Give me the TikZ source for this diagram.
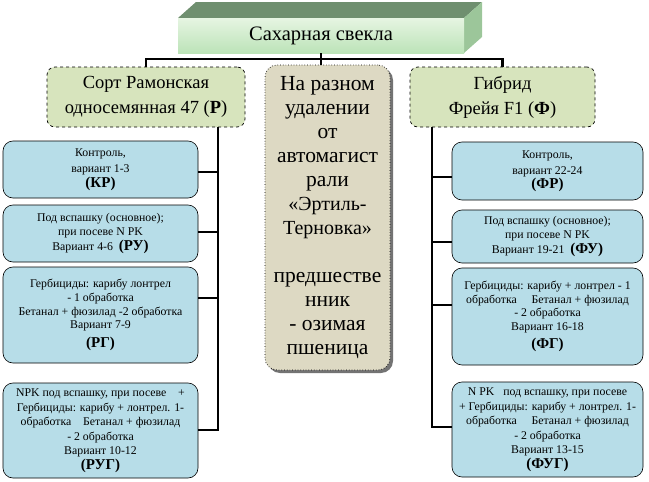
\documentclass[tikz,border=0pt]{standalone}
\usepackage{fontspec}
\setmainfont{Liberation Serif}
\usetikzlibrary{shadows}
\definecolor{topfront}{HTML}{E6F5E2}
\definecolor{topfront2}{HTML}{BCE3B8}
\definecolor{toptop}{HTML}{6F8F6F}
\definecolor{topside}{HTML}{9CC69A}
\definecolor{sortfill}{HTML}{D7E4BD}
\definecolor{midfill}{HTML}{DDD9C3}
\definecolor{varfill}{HTML}{B7DDE8}
\tikzset{
  conn/.style={line width=2.6pt},
  sortbox/.style={draw, dashed, fill=sortfill, rounded corners=8pt, line width=0.7pt, align=center, inner sep=0pt,
    font=\fontsize{18.5}{25}\selectfont},
  midbox/.style={draw, dotted, fill=midfill, rounded corners=12pt, line width=0.7pt, align=center, inner sep=0pt,
    drop shadow={shadow xshift=3pt, shadow yshift=-3pt, fill=black!55, opacity=1},
    font=\fontsize{21.5}{24}\selectfont},
  varbox/.style={draw, fill=varfill, rounded corners=10pt, line width=0.6pt, align=center, inner sep=0pt,
    font=\fontsize{11.8}{14.5}\selectfont},
}
\newcommand{\lbl}[1]{{\fontsize{15}{19}\selectfont\bfseries #1}}
\begin{document}
\begin{tikzpicture}[x=1pt,y=-1pt]
\useasboundingbox (0,0) rectangle (649,482);
% 3D top box
\fill[toptop] (178,18) -- (196,2) -- (482,2) -- (464,18) -- cycle;
\fill[topside] (464,18) -- (482,2) -- (482,37) -- (464,53) -- cycle;
\node[minimum width=286pt, minimum height=35pt, inner sep=0pt, top color=topfront, bottom color=topfront2,
  font=\fontsize{20.5}{22}\selectfont] (top) at (321,35.5) {Сахарная свекла};

% second level
\node[sortbox, minimum width=198pt, minimum height=60pt] (sortL) at (146,97) {Сорт Рамонская\\односемянная 47 (\textbf{Р})};
\node[sortbox, minimum width=185pt, minimum height=60pt] (sortR) at (502.5,97) {Гибрид\\Фрейя F1 (\textbf{Ф})};
\node[midbox, minimum width=125pt, minimum height=305pt] (mid) at (327.5,217.5) {На разном\\удалении\\от\\автомагист\\рали\\{\fontsize{20}{24}\selectfont«Эртиль-}\\{\fontsize{20}{24}\selectfont Терновка»}\\[24pt]предшестве\\нник\\- озимая\\пшеница};

% left variants
\node[varbox, minimum width=195pt, minimum height=57pt] (kl1) at (100.5,169.5) {Контроль,\\[1.5pt]вариант 1-3\\\lbl{(КР)}};
\node[varbox, minimum width=195pt, minimum height=57pt] (kl2) at (100.5,233.5) {Под вспашку (основное);\\при посеве N PK\\Вариант 4-6~~\lbl{(РУ)}};
\node[varbox, minimum width=195pt, minimum height=96pt, font=\fontsize{11.8}{13.6}\selectfont] (kl3) at (100.5,315) {Гербициды: карибу лонтрел\\- 1 обработка\\Бетанал + фюзилад -2 обработка\\Вариант 7-9\\[5pt]\lbl{(РГ)}};
\node[varbox, minimum width=195pt, minimum height=95pt] (kl4) at (100.5,430.5) {NPK под вспашку, при посеве~~~~+\\Гербициды: карибу + лонтрел. 1-\\обработка~~~~Бетанал + фюзилад\\- 2 обработка\\Вариант 10-12\\\lbl{(РУГ)}};

% right variants
\node[varbox, minimum width=191pt, minimum height=58pt] (kr1) at (547.5,171) {Контроль,\\[1.5pt]вариант 22-24\\\lbl{(ФР)}};
\node[varbox, minimum width=191pt, minimum height=53pt] (kr2) at (547.5,236.5) {Под вспашку (основное);\\при посеве N PK\\Вариант 19-21~~\lbl{(ФУ)}};
\node[varbox, minimum width=191pt, minimum height=97pt, font=\fontsize{11.8}{13.6}\selectfont] (kr3) at (547.5,316.5) {Гербициды: карибу + лонтрел - 1\\обработка~~~~~Бетанал + фюзилад\\- 2 обработка\\Вариант 16-18\\[5pt]\lbl{(ФГ)}};
\node[varbox, minimum width=191pt, minimum height=95pt] (kr4) at (547.5,429.5) {N PK~~~под вспашку, при посеве\\+ Гербициды: карибу + лонтрел. 1-\\обработка~~~~~Бетанал + фюзилад\\- 2 обработка\\Вариант 13-15\\\lbl{(ФУГ)}};

% connectors top
\coordinate (hub) at (321,59);
\draw[conn] (top.south) -- (top.south |- mid.north);
\draw[conn] (sortL.north) |- (hub) -| (sortR.north);

% left trunk
\coordinate (lt) at (218,127);
\coordinate (lb3) at (218,298);
\coordinate (lb4) at (218,430);
\draw[conn] (lt) -- (lb4) -- (lb4 -| kl4.east);
\draw[conn] (lt |- 0,172) -- (kl1.east |- 0,172);
\draw[conn] (lt |- 0,232) -- (kl2.east |- 0,232);
\draw[conn] (lb3) -- (kl3.east |- lb3);

% right trunk
\coordinate (rt) at (432,127);
\coordinate (rb3) at (432,305);
\coordinate (rb4) at (432,427);
\draw[conn] (rt) -- (rb4) -- (rb4 -| kr4.west);
\draw[conn] (rt |- 0,177) -- (kr1.west |- 0,177);
\draw[conn] (rt |- 0,242) -- (kr2.west |- 0,242);
\draw[conn] (rb3) -- (kr3.west |- rb3);
\end{tikzpicture}
\end{document}
